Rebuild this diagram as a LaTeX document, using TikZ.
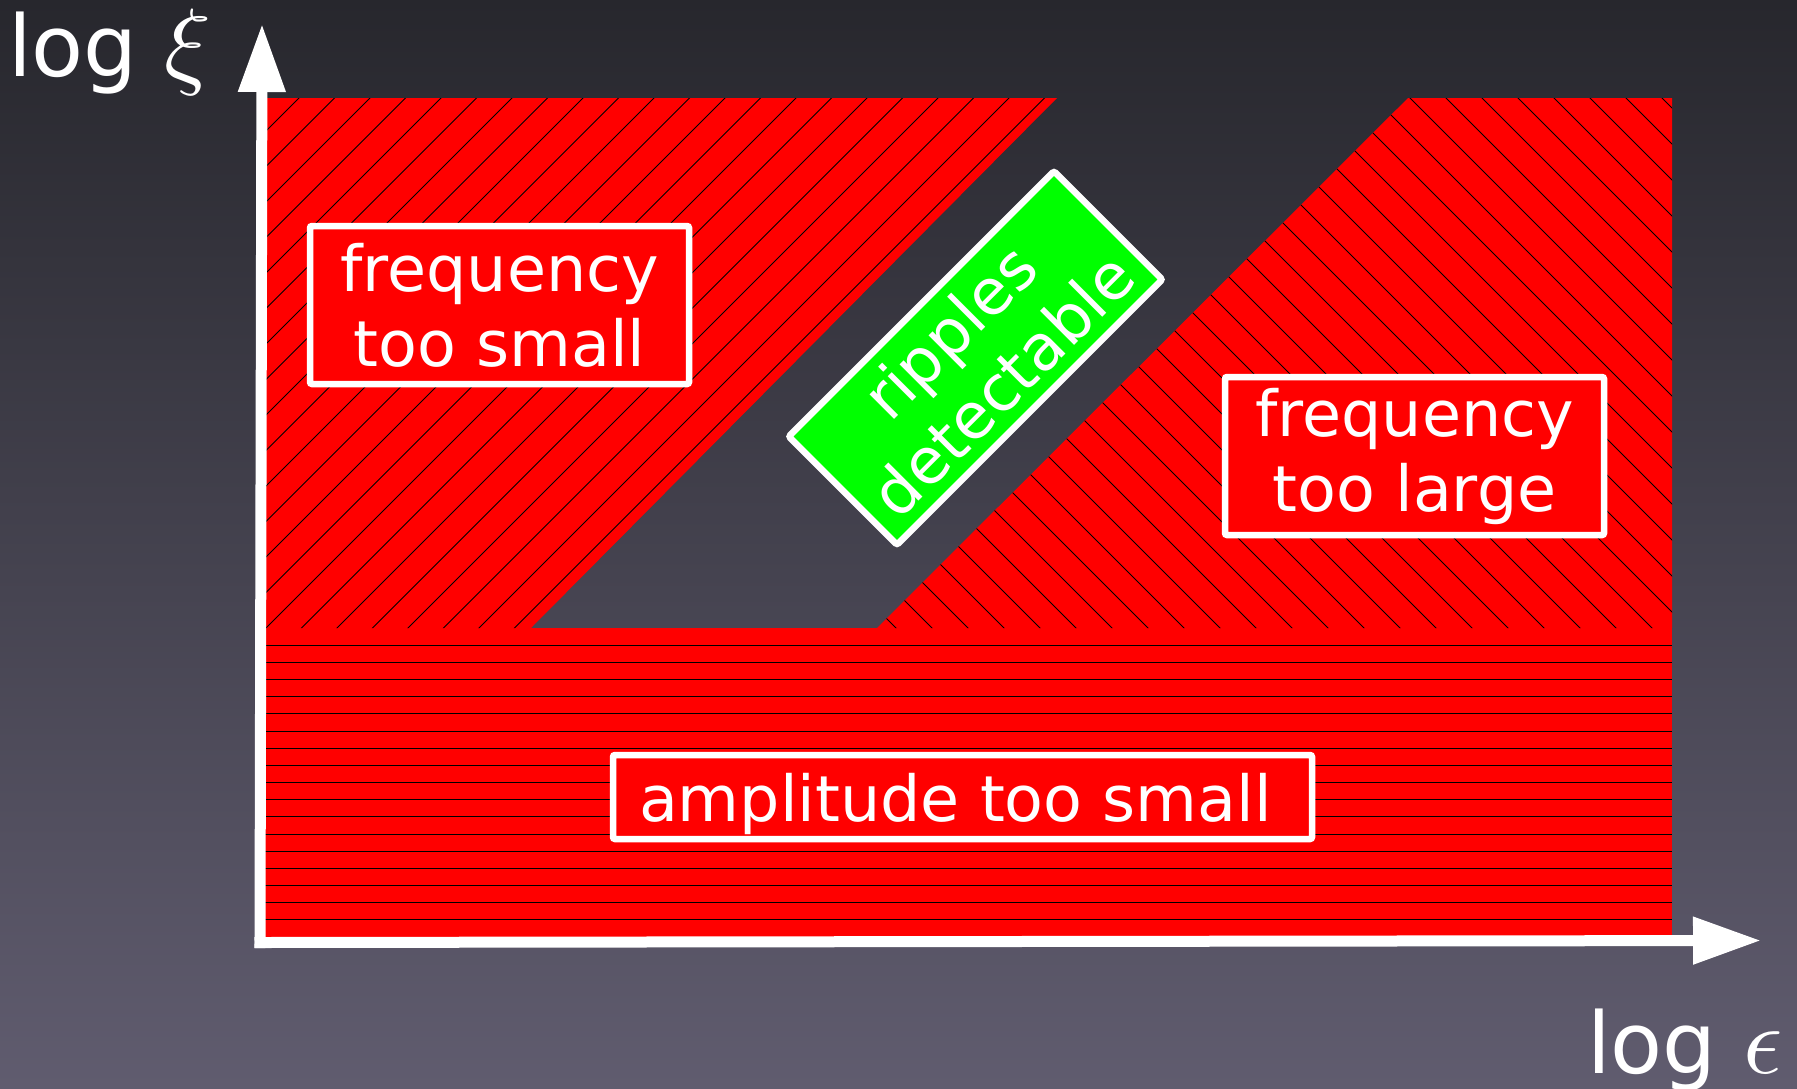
\documentclass[tikz,border=0pt]{standalone}
\usepackage{fontspec}
\setmainfont{DejaVu Sans}
\DeclareFontShape{OML}{cmm}{m}{it}{<->cmmi10}{}
\usetikzlibrary{arrows.meta}
\definecolor{bgtop}{RGB}{39,39,45}
\definecolor{bgbot}{RGB}{96,92,111}
\definecolor{zonered}{RGB}{255,0,0}
\definecolor{zonegreen}{RGB}{0,255,0}
\newcommand{\bigmath}[1]{{\fontsize{97}{100}\selectfont$#1$}}
\begin{document}
\begin{tikzpicture}[x=1pt,y=-1pt,
  hatch/.style={black,line width=0.9pt},
  labelbox/.style={draw=white,line width=6.5pt,fill=zonered,text=white,
    font=\fontsize{63.5}{75}\selectfont,align=center,inner sep=0pt,rounded corners=2pt},
  axis/.style={white,line width=11pt,line cap=rect,-{Triangle[length=68pt,width=45pt]}},
  axislabel/.style={text=white,font=\fontsize{85}{100}\selectfont,inner sep=0pt}
]
\useasboundingbox (0,0) rectangle (1797,1088);
\shade[top color=bgtop,bottom color=bgbot] (0,0) rectangle (1797,1088);

% amplitude band
\fill[zonered] (265,628) rectangle (1672,937);
\begin{scope}
  \clip (265,628) rectangle (1672,937);
  \foreach \k in {1,...,17} \draw[hatch] (265,{628+17.17*\k}) -- (1672,{628+17.17*\k});
\end{scope}

% frequency too small region
\fill[zonered] (265,98) -- (1057,98) -- (531,628) -- (265,628) -- cycle;
\begin{scope}
  \clip (265,98) -- (1057,98) -- (531,628) -- (265,628) -- cycle;
  \foreach \k in {10,...,33} \draw[hatch] ({6.5+35.5*\k-700},700) -- ({6.5+35.5*\k},0);
\end{scope}

% frequency too large region
\fill[zonered] (1408,98) -- (1672,98) -- (1672,628) -- (877,628) -- cycle;
\begin{scope}
  \clip (1408,98) -- (1672,98) -- (1672,628) -- (877,628) -- cycle;
  \foreach \k in {6,...,44} \draw[hatch] ({16+36*\k},0) -- ({16+36*\k+700},700);
\end{scope}

% label boxes
\node[labelbox,minimum width=379pt,minimum height=158pt] (fsmall) at (499.5,305) {frequency\\too small};
\node[labelbox,minimum width=379pt,minimum height=158pt] (flarge) at (1414.5,456) {frequency\\too large};
\node[labelbox,minimum width=699pt,minimum height=84pt,text depth=0pt] (asmall) at (962.5,797) {amplitude too small\hspace*{14pt}};
\node[labelbox,fill=zonegreen,rotate=45,minimum width=375pt,minimum height=153pt] (ripples) at (975.5,358) {ripples\\detectable};

% axes
\coordinate (O) at (260,942.5);
\coordinate (ytip) at (262,24);
\coordinate (xtip) at (1761,940.5);
\draw[axis] (O) -- (ytip);
\draw[axis] (O) -- (xtip);

\node[axislabel,anchor=base west] (ylab) at (8,76) {log \bigmath{\xi}};
\node[axislabel,anchor=base west] (xlab) at (1587,1073) {log \bigmath{\epsilon}};
\end{tikzpicture}
\end{document}
